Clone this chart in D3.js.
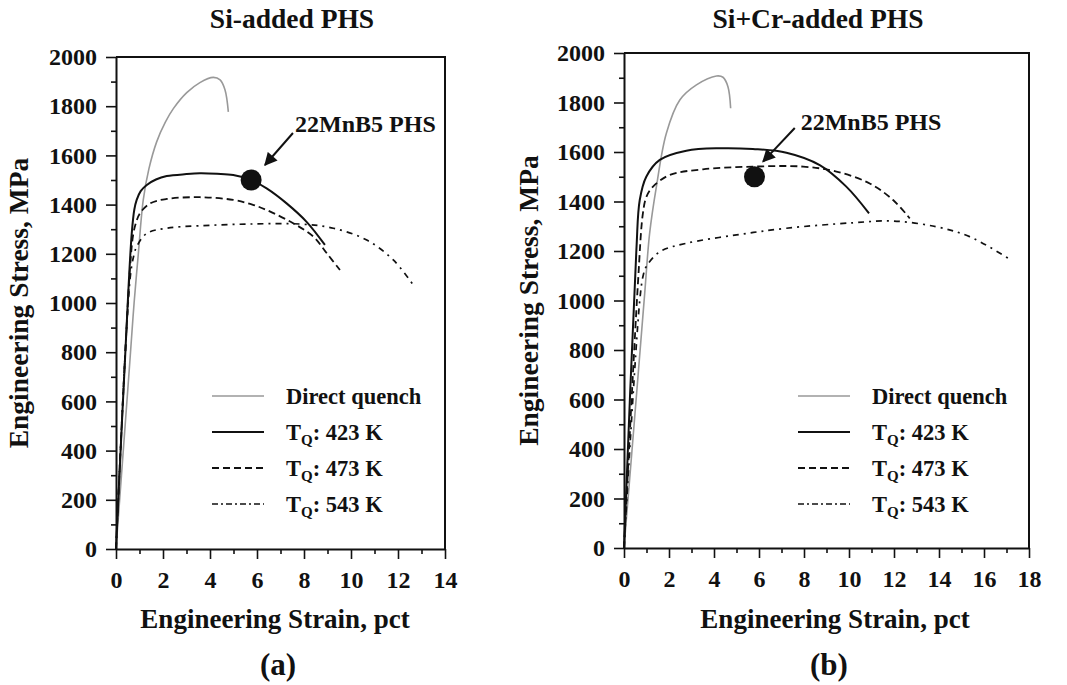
<!DOCTYPE html>
<html>
<head>
<meta charset="utf-8">
<script src="https://cdn.jsdelivr.net/npm/d3@7"></script>
<style>
body { margin: 0; background: #fff; }
svg text { font-family: 'Liberation Serif', 'Times New Roman', serif; font-weight: bold; fill: #111; }
</style>
</head>
<body>
<div id="chart"></div>
<script>
// tick values
var yTicks = [0, 200, 400, 600, 800, 1000, 1200, 1400, 1600, 1800, 2000];
var xTicksA = [0, 2, 4, 6, 8, 10, 12, 14];
var xTicksB = [0, 2, 4, 6, 8, 10, 12, 14, 16, 18];

// legend entries
var seriesNames = ['Direct quench', '423', '473', '543'];

// (a) Si-added PHS  -- [strain pct, stress MPa]
var dqA = [[0, 0], [0.58, 750], [0.77, 1000], [0.95, 1200], [1.16, 1419], [1.4, 1545], [1.73, 1655], [2.1, 1735], [2.44, 1790], [3.01, 1855], [3.57, 1896], [4.14, 1917], [4.43, 1907], [4.64, 1866], [4.78, 1777]];
var tq423A = [[0, 0], [0.52, 1039], [0.67, 1283], [0.78, 1380], [0.88, 1419], [1.05, 1455], [1.31, 1480], [1.7, 1502], [2.16, 1516], [3.0, 1524], [3.57, 1527], [4.3, 1525], [4.99, 1520], [5.75, 1500], [6.41, 1466], [7.26, 1405], [8.11, 1330], [8.89, 1236]];
var tq473A = [[0, 0], [0.6, 1148], [0.74, 1283], [0.88, 1335], [1.02, 1365], [1.45, 1405], [2.16, 1423], [3.57, 1430], [4.99, 1419], [5.8, 1400], [6.41, 1378], [7.54, 1324], [8.4, 1270], [8.97, 1202], [9.53, 1134]];
var tq543A = [[0, 0], [0.6, 1100], [0.75, 1190], [0.88, 1229], [1.31, 1283], [2.16, 1304], [3.57, 1314], [5.7, 1321], [7.83, 1321], [9.25, 1304], [10.67, 1256], [11.8, 1175], [12.65, 1073]];

// (b) Si+Cr-added PHS
var dqB = [[0, 0], [0.45, 500], [0.92, 1029], [1.14, 1272], [1.44, 1460], [1.88, 1675], [2.48, 1810], [3.22, 1871], [4.11, 1907], [4.4, 1902], [4.62, 1864], [4.74, 1777]];
var tq423B = [[0, 0], [0.55, 1204], [0.7, 1406], [0.99, 1500], [1.59, 1568], [2.77, 1605], [4.25, 1615], [5.73, 1612], [7.22, 1597], [8.7, 1547], [9.88, 1460], [10.89, 1352]];
var tq473B = [[0, 0], [0.62, 1070], [0.84, 1352], [1.0, 1420], [1.29, 1460], [2.03, 1507], [3.51, 1530], [5.73, 1541], [7.96, 1541], [9.44, 1521], [10.92, 1473], [11.96, 1406], [12.7, 1332]];
var tq543B = [[0, 0], [0.7, 1000], [0.85, 1100], [0.99, 1137], [1.59, 1197], [2.77, 1231], [5.0, 1265], [7.22, 1292], [10.18, 1314], [11.96, 1321], [13.88, 1298], [15.36, 1258], [17.07, 1171]];

// 22MnB5 reference point
var refA = [5.75, 1500];
var refB = [5.8, 1500];

var width = 1067, height = 685;
var font = "'Liberation Serif', 'Times New Roman', serif";

var styles = [
	{ stroke: '#999', width: 1.6, dash: null, legendDash: null },
	{ stroke: '#111', width: 2, dash: null, legendDash: null },
	{ stroke: '#111', width: 1.8, dash: '7,4', legendDash: '7,4' },
	{ stroke: '#111', width: 1.7, dash: '6,5,2,5', legendDash: '6,3,2,3' }
];

var svg = d3.select('#chart').append('svg').attr('width', width).attr('height', height);

var panels = [
	{
		left: 116, right: 445, top: 57, bottom: 549, xMax: 14, xTicks: xTicksA,
		title: 'Si-added PHS', titleX: 292, tag: '(a)', tagX: 278, xTitleX: 275, yTitleX: 28,
		data: [dqA, tq423A, tq473A, tq543A], ref: refA,
		arrow: [[7.53, 1691], [6.34, 1561]], note: [7.62, 1695],
		legendX: 212, legendY: 396
	},
	{
		left: 624, right: 1029, top: 53, bottom: 548, xMax: 18, xTicks: xTicksB,
		title: 'Si+Cr-added PHS', titleX: 818, tag: '(b)', tagX: 829, xTitleX: 835, yTitleX: 538,
		data: [dqB, tq423B, tq473B, tq543B], ref: refB,
		arrow: [[7.59, 1697], [6.18, 1561]], note: [7.85, 1689],
		legendX: 798, legendY: 396
	}
];

var defs = svg.append('defs');
defs.append('marker')
	.attr('id', 'head')
	.attr('viewBox', '0 0 10 10')
	.attr('refX', 9).attr('refY', 5)
	.attr('markerWidth', 7).attr('markerHeight', 6.5)
	.attr('markerUnits', 'strokeWidth')
	.attr('orient', 'auto')
	.append('path').attr('d', 'M0,0L10,5L0,10z').attr('fill', '#111');

panels.forEach(function (p) {

	var x = d3.scaleLinear().domain([0, p.xMax]).range([p.left, p.right]);
	var y = d3.scaleLinear().domain([0, 2000]).range([p.bottom, p.top]);

	var g = svg.append('g');

	// minor ticks
	g.append('g').attr('transform', 'translate(' + p.left + ',0)')
		.call(d3.axisLeft(y).tickValues(d3.range(100, 2000, 200)).tickSize(5).tickSizeOuter(0).tickFormat(''))
		.call(function (a) { a.select('.domain').remove(); });
	g.append('g').attr('transform', 'translate(0,' + p.bottom + ')')
		.call(d3.axisBottom(x).tickValues(d3.range(1, p.xMax, 2)).tickSize(5).tickSizeOuter(0).tickFormat(''))
		.call(function (a) { a.select('.domain').remove(); });

	// major axes
	g.append('g').attr('transform', 'translate(' + p.left + ',0)')
		.call(d3.axisLeft(y).tickValues(yTicks).tickSize(10).tickSizeOuter(0).tickPadding(9).tickFormat(d3.format('d')));
	g.append('g').attr('transform', 'translate(0,' + p.bottom + ')')
		.call(d3.axisBottom(x).tickValues(p.xTicks).tickSize(10).tickSizeOuter(0).tickPadding(12).tickFormat(d3.format('d')));

	g.selectAll('.tick line').attr('stroke', '#111').attr('stroke-width', 1.6);
	g.selectAll('.domain').attr('stroke', '#111').attr('stroke-width', 2);
	g.selectAll('.tick text').attr('font-family', font).attr('font-weight', 'bold')
		.attr('font-size', 24).attr('fill', '#111');

	// frame top and right
	g.append('path')
		.attr('d', 'M' + p.left + ',' + p.top + 'H' + p.right + 'V' + p.bottom)
		.attr('fill', 'none').attr('stroke', '#111').attr('stroke-width', 2);

	// curves
	var line = d3.line()
		.x(function (d) { return x(d[0]); })
		.y(function (d) { return y(d[1]); })
		.curve(d3.curveCatmullRom.alpha(0.5));

	p.data.forEach(function (s, i) {
		g.append('path')
			.datum(s)
			.attr('d', line)
			.attr('fill', 'none')
			.attr('stroke', styles[i].stroke)
			.attr('stroke-width', styles[i].width)
			.attr('stroke-dasharray', styles[i].dash)
			.attr('stroke-linejoin', 'round');
	});

	// reference point + arrow
	g.append('circle')
		.attr('cx', x(p.ref[0])).attr('cy', y(p.ref[1]))
		.attr('r', 10.5).attr('fill', '#111');

	g.append('line')
		.attr('x1', x(p.arrow[0][0])).attr('y1', y(p.arrow[0][1]))
		.attr('x2', x(p.arrow[1][0])).attr('y2', y(p.arrow[1][1]))
		.attr('stroke', '#111').attr('stroke-width', 2)
		.attr('marker-end', 'url(#head)');

	g.append('text')
		.attr('x', x(p.note[0])).attr('y', y(p.note[1]))
		.attr('font-size', 24)
		.text('22MnB5 PHS');

	// titles
	g.append('text').attr('x', p.titleX).attr('y', 28)
		.attr('text-anchor', 'middle').attr('font-size', 27.5).text(p.title);

	g.append('text').attr('x', p.xTitleX).attr('y', 628)
		.attr('text-anchor', 'middle').attr('font-size', 27).text('Engineering Strain, pct');

	g.append('text')
		.attr('transform', 'translate(' + p.yTitleX + ',' + ((p.top + p.bottom) / 2) + ') rotate(-90)')
		.attr('text-anchor', 'middle').attr('font-size', 27.5).text('Engineering Stress, MPa');

	g.append('text').attr('x', p.tagX).attr('y', 675)
		.attr('text-anchor', 'middle').attr('font-size', 31).text(p.tag);

	// legend
	var lg = g.append('g').attr('transform', 'translate(' + p.legendX + ',' + p.legendY + ')');
	seriesNames.forEach(function (name, i) {
		var row = lg.append('g').attr('transform', 'translate(0,' + (i * 36) + ')');
		row.append('line')
			.attr('x1', 0).attr('x2', 52).attr('y1', 0).attr('y2', 0)
			.attr('stroke', styles[i].stroke)
			.attr('stroke-width', styles[i].width)
			.attr('stroke-dasharray', styles[i].legendDash);
		var t = row.append('text').attr('x', 74).attr('y', 8).attr('font-size', 22.5);
		if (i === 0) {
			t.text(name);
		} else {
			t.append('tspan').text('T');
			t.append('tspan').attr('font-size', 15).attr('dy', 5).text('Q');
			t.append('tspan').attr('dy', -5).text(': ' + name + ' K');
		}
	});
});
</script>
</body>
</html>
